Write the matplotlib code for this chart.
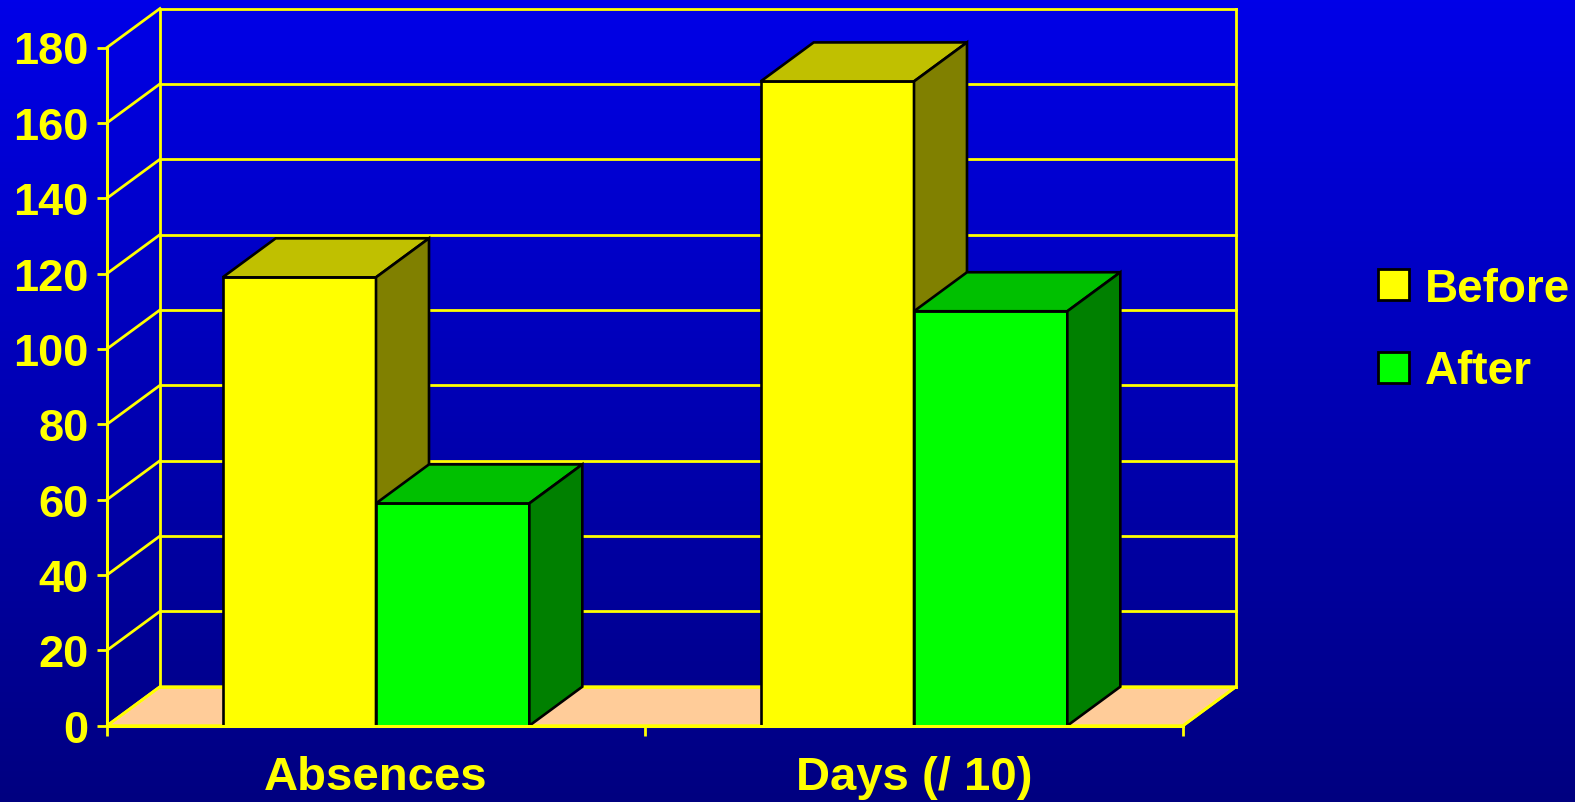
import numpy as np
import matplotlib
matplotlib.use("Agg")
import matplotlib.pyplot as plt
from matplotlib.patches import Rectangle, Polygon, Patch

plt.rcParams['font.family'] = ['Liberation Sans', 'DejaVu Sans']
plt.rcParams['font.weight'] = 'bold'

# data
categories = ["Absences", "Days (/ 10)"]
before = [119, 171]
after = [59, 110]
series_names = ["Before", "After"]
yticks = list(range(0, 181, 20))

YELLOW = "#FFFF00"
front_cols = ["#FFFF00", "#00FF00"]
top_cols = ["#C0C000", "#00C000"]
side_cols = ["#808000", "#008000"]
FLOOR = "#FFCC99"

fig = plt.figure(figsize=(15.75, 8.03), dpi=100)

# blue gradient background
bg = fig.add_axes([0, 0, 1, 1], zorder=-10)
grad = np.linspace(0, 1, 256)[:, None]
top_c = np.array([0, 0, 232]) / 255
bot_c = np.array([0, 0, 128]) / 255
img = top_c[None, None, :] * (1 - grad[:, :, None]) + bot_c[None, None, :] * grad[:, :, None]
bg.imshow(img, aspect='auto', extent=[0, 1, 0, 1])
bg.set_axis_off()

ax = fig.add_axes([107 / 1575, 76.3 / 803, 1076 / 1575, 678.2 / 803])
ax.set_facecolor('none')
ax.set_xlim(0, 2)
ax.set_ylim(0, 180)

# depth offset of the 3D box (data units)
dx, dy = 0.0985, 10.35
ymax = 180

gkw = dict(color=YELLOW, lw=2.0, clip_on=False, zorder=1)
# floor
ax.add_patch(Polygon([(0, 0), (2, 0), (2 + dx, dy), (dx, dy)], closed=True,
                     facecolor=FLOOR, edgecolor=YELLOW, lw=2.0, clip_on=False, zorder=0.5))
# back wall grid
for v in yticks:
    ax.plot([0, dx], [v, v + dy], **gkw)
    ax.plot([dx, 2 + dx], [v + dy, v + dy], **gkw)
ax.plot([dx, dx], [dy, ymax + dy], **gkw)
ax.plot([2 + dx, 2 + dx], [dy, ymax + dy], **gkw)
ax.plot([2, 2 + dx], [0, dy], **gkw)

# 3D bars
bw = 0.285
edge = dict(edgecolor='black', lw=1.9, clip_on=False, zorder=3)
for i in range(len(categories)):
    c = i + 0.5
    for j, vals in enumerate([before, after]):
        h = vals[i]
        l = c - bw if j == 0 else c
        r = l + bw
        ax.add_patch(Rectangle((l, 0), bw, h, facecolor=front_cols[j], **edge))
        ax.add_patch(Polygon([(l, h), (r, h), (r + dx, h + dy), (l + dx, h + dy)],
                             closed=True, facecolor=top_cols[j], **edge))
        ax.add_patch(Polygon([(r, 0), (r + dx, dy), (r + dx, h + dy), (r, h)],
                             closed=True, facecolor=side_cols[j], **edge))

# axes styling
for s in ['top', 'right']:
    ax.spines[s].set_visible(False)
for s in ['left', 'bottom']:
    ax.spines[s].set_color(YELLOW)
    ax.spines[s].set_linewidth(2.2)
    ax.spines[s].set_zorder(4)

ax.set_yticks(yticks)
ax.set_yticklabels([str(v) for v in yticks])
ax.tick_params(axis='y', colors=YELLOW, labelcolor=YELLOW, labelsize=32.5,
               length=7.2, width=2, pad=6)
ax.set_xticks([0, 1, 2])
ax.set_xticklabels([])
ax.set_xticks([0.5, 1.5], minor=True)
ax.set_xticklabels(categories, minor=True)
ax.tick_params(axis='x', which='major', colors=YELLOW, length=7.2, width=2)
ax.tick_params(axis='x', which='minor', length=0, labelcolor=YELLOW,
               labelsize=34, pad=21)
for t in ax.get_yticklabels() + ax.get_xticklabels(minor=True):
    t.set_fontweight('bold')

handles = [Patch(facecolor=front_cols[k], edgecolor='black', lw=2) for k in range(2)]
leg = ax.legend(handles, series_names, loc='center left',
                bbox_to_anchor=(1378 / 1575, 1 - 331 / 803),
                bbox_transform=fig.transFigure, frameon=False,
                handlelength=0.68, handleheight=0.68, handletextpad=0.35,
                labelspacing=0.85, borderpad=0, borderaxespad=0,
                prop={'size': 33, 'weight': 'bold'})
for t in leg.get_texts():
    t.set_color(YELLOW)

fig.savefig("out.png", dpi=100)
